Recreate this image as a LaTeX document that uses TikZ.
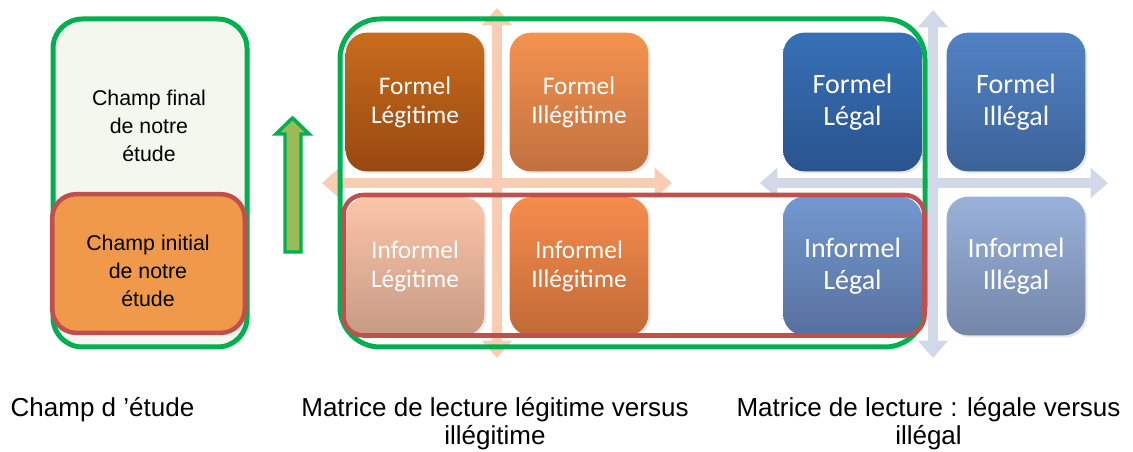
\documentclass[tikz,border=0pt]{standalone}
\usepackage{fontspec}
\setmainfont{Liberation Sans}
\newfontfamily\calibrifont{Carlito}
\usetikzlibrary{positioning,arrows.meta,shadows}

\definecolor{frmgreen}{HTML}{00B050}
\definecolor{frmred}{HTML}{C0504D}
\definecolor{olive}{HTML}{9BBB59}
\definecolor{peachaxis}{HTML}{F8CDB4}
\definecolor{blueaxis}{HTML}{D1D9E8}

\begin{document}
\begin{tikzpicture}[
  x=0.75pt, y=-0.75pt,
  cell/.style={rounded corners=16pt, minimum width=104pt, minimum height=104pt, align=center, text=white,
    drop shadow={opacity=0.18, shadow xshift=1.5pt, shadow yshift=-1.5pt}},
  midcell/.style={cell, font=\calibrifont\fontsize{19}{21.75}\selectfont},
  rgtcell/.style={cell, font=\calibrifont\fontsize{21}{24}\selectfont},
  axis/.style={line width=7.5pt, {Triangle[width=22pt,length=13pt]}-{Triangle[width=22pt,length=13pt]}},
  fieldtxt/.style={align=center, font=\fontsize{16}{21}\selectfont},
  caption/.style={align=center, font=\fontsize{19.5}{21}\selectfont}
]
\useasboundingbox (0,0) rectangle (1133,452);

% left: field of study
\node[draw=frmgreen, line width=3.75pt, fill={rgb,255:red,244;green,247;blue,238}, rounded corners=22pt,
  minimum width=145.5pt, minimum height=246pt] (final) at (150,183) {};
\node[draw=frmred, line width=3.4pt, fill={rgb,255:red,240;green,153;blue,74}, rounded corners=18pt,
  minimum width=144.4pt, minimum height=104pt] (initial) at (148.5,263.5) {};
\node[fieldtxt] (finaltxt) at (149,126) {Champ final\\de notre\\étude};
\node[fieldtxt] (initialtxt) at (148,271) {Champ initial\\de notre\\étude};

% growth arrow
\draw[frmgreen, line width=2.6pt, fill=olive]
  (285,252) -- (285,134) -- (276,134) -- (292.5,118) -- (309,134) -- (301,134) -- (301,252) -- cycle;

% axes of both matrices
\coordinate (mtop) at (497,8);
\coordinate (mbot) at (497,358);
\coordinate (mleft) at (322,183);
\coordinate (mright) at (672,183);
\coordinate (rtop) at (933,10);
\coordinate (rbot) at (933,358);
\coordinate (rleft) at (760,183);
\coordinate (rright) at (1108,183);
\draw[axis, peachaxis] (mtop) -- (mbot);
\draw[axis, peachaxis] (mleft) -- (mright);
\draw[axis, blueaxis] (rtop) -- (rbot);
\draw[axis, blueaxis] (rleft) -- (rright);

% legitime / illegitime
\node[midcell, top color={rgb,255:red,201;green,108;blue,30}, bottom color={rgb,255:red,152;green,72;blue,15}] (fleg) at (415,102) {Formel\\Légitime};
\node[midcell, top color={rgb,255:red,245;green,147;blue,80}, bottom color={rgb,255:red,193;green,112;blue,63}] (fill) at (579,102) {Formel\\Illégitime};
\node[midcell, top color={rgb,255:red,252;green,197;blue,168}, bottom color={rgb,255:red,198;green,154;blue,133}] (ileg) at (415,266.5) {Informel\\Légitime};
\node[midcell, top color={rgb,255:red,246;green,140;blue,77}, bottom color={rgb,255:red,192;green,106;blue,55}] (iill) at (579,266.5) {Informel\\Illégitime};

% legal / illegal
\node[rgtcell, top color={rgb,255:red,55;green,112;blue,183}, bottom color={rgb,255:red,42;green,84;blue,142}] (flegal) at (852.5,102) {Formel\\Légal};
\node[rgtcell, top color={rgb,255:red,82;green,130;blue,198}, bottom color={rgb,255:red,60;green,99;blue,152}] (fillegal) at (1016,102) {Formel\\Illégal};
\node[rgtcell, top color={rgb,255:red,115;green,152;blue,208}, bottom color={rgb,255:red,87;green,112;blue,158}] (ilegal) at (852.5,266) {Informel\\Légal};
\node[rgtcell, top color={rgb,255:red,153;green,177;blue,218}, bottom color={rgb,255:red,116;green,134;blue,169}] (iillegal) at (1016,266) {Informel\\Illégal};

% final and initial scopes over the matrices
\draw[frmgreen, line width=3.75pt, rounded corners=30pt] (340,19) rectangle (925,347);
\draw[frmred, line width=3.4pt, rounded corners=15pt] (343.5,195) rectangle (924.5,335.5);

% captions
\node[caption, anchor=east] (capfield) at (199,410) {Champ d ’étude};
\node[caption] (caplegit) at (495,424) {Matrice de lecture légitime versus\\illégitime};
\node[caption] (caplegal) at (928.5,424) {Matrice de lecture : légale versus\\illégal};
\end{tikzpicture}
\end{document}
